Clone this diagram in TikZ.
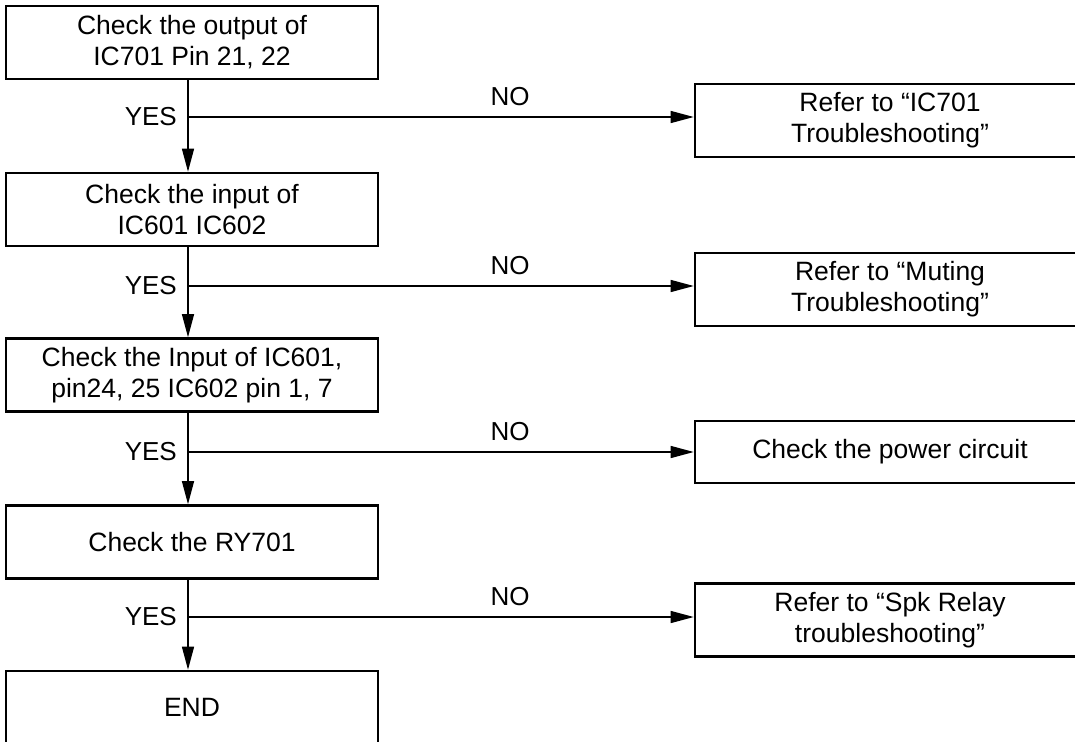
\documentclass[tikz,border=0pt]{standalone}
\usepackage{fontspec}
\setmainfont{Liberation Sans}
\usetikzlibrary{arrows.meta}

\tikzset{
  stepbox/.style={draw, line width=2.6pt, minimum height=73pt, inner sep=0pt,
    align=center, font=\fontsize{26.5}{31}\selectfont},
  leftbox/.style={stepbox, minimum width=372pt},
  rightbox/.style={stepbox, minimum width=390pt},
  flow/.style={line width=1.3pt, -{Triangle[length=23pt,width=12pt]}},
  lbl/.style={inner sep=0pt, font=\fontsize{26}{31}\selectfont}
}

\begin{document}
\begin{tikzpicture}[x=1pt, y=-1pt]
  \clip (0,0) rectangle (1075,741);
  \fill[white] (0,0) rectangle (1075,741);

  % main column
  \node[leftbox] (b1) at (192,42.5) {Check the output of\\IC701 Pin 21, 22};
  \node[leftbox] (b2) at (192,209.5) {Check the input of\\IC601 IC602};
  \node[leftbox] (b3) at (192,375) {Check the Input of IC601,\\pin24, 25 IC602 pin 1, 7};
  \node[leftbox] (b4) at (192,542) {Check the RY701};
  \node[leftbox] (b5) at (192,707.5) {END};

  % side actions
  \node[rightbox] (r1) at (890,120.5) {Refer to “IC701\\Troubleshooting”};
  \node[rightbox] (r2) at (890,289.5) {Refer to “Muting\\Troubleshooting”};
  \node[rightbox, minimum height=62pt] (r3) at (890,452) {Check the power circuit};
  \node[rightbox] (r4) at (890,620) {Refer to “Spk Relay\\troubleshooting”};

  % branch points on the vertical flow line
  \coordinate (spine) at (188,0);
  \coordinate (j1) at (188,117);
  \coordinate (j2) at (188,286);
  \coordinate (j3) at (188,452);
  \coordinate (j4) at (188,617);

  % YES path
  \draw[flow] (b1.south -| spine) -- (b2.north -| spine);
  \draw[flow] (b2.south -| spine) -- (b3.north -| spine);
  \draw[flow] (b3.south -| spine) -- (b4.north -| spine);
  \draw[flow] (b4.south -| spine) -- (b5.north -| spine);

  % NO branches
  \draw[flow] (j1) -- (j1 -| r1.west);
  \draw[flow] (j2) -- (j2 -| r2.west);
  \draw[flow] (j3) -- (j3 -| r3.west);
  \draw[flow] (j4) -- (j4 -| r4.west);

  % labels
  \foreach \j/\n in {j1/1,j2/2,j3/3,j4/4} {
    \node[lbl, anchor=east] (yes\n) at ([xshift=-11pt,yshift=0.5pt]\j) {YES};
    \node[lbl] (no\n) at ([yshift=20pt]\j -| 510,0) {NO};
  }
\end{tikzpicture}
\end{document}
